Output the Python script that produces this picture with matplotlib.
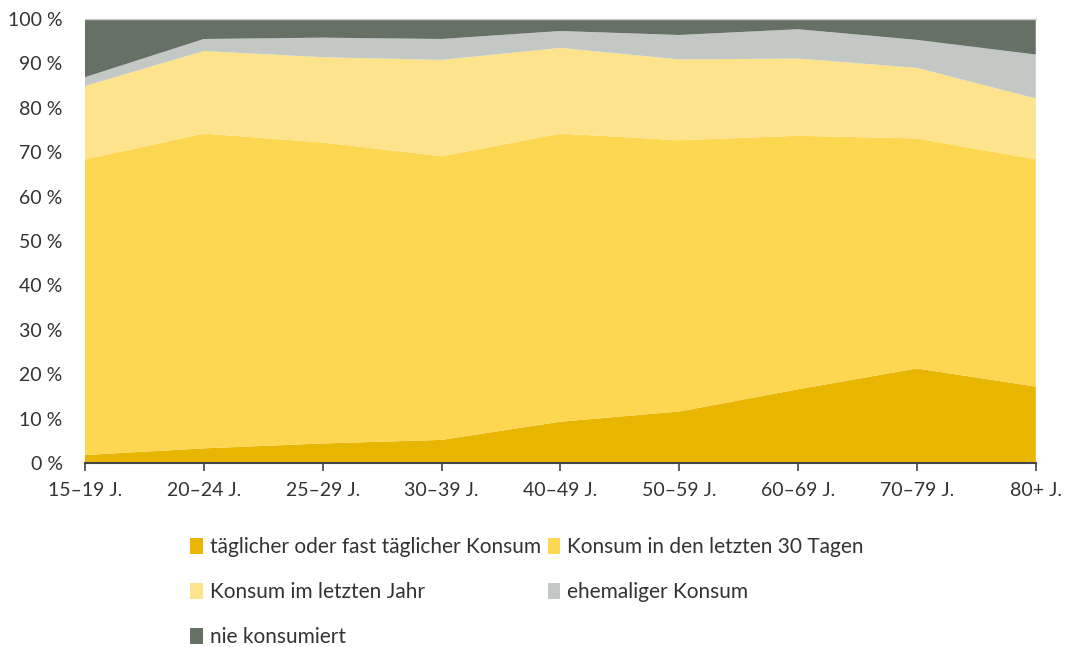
import numpy as np
import matplotlib.pyplot as plt

# age groups and shares (%) per consumption category
age_groups = ['15–19 J.', '20–24 J.', '25–29 J.', '30–39 J.', '40–49 J.',
              '50–59 J.', '60–69 J.', '70–79 J.', '80+ J.']
daily = [1.8, 3.3, 4.4, 5.2, 9.3, 11.6, 16.6, 21.3, 17.2]
last_30_days = [66.6, 70.9, 67.8, 63.9, 64.9, 61.1, 57.1, 51.8, 51.2]
last_year = [16.5, 18.6, 19.2, 21.7, 19.3, 18.2, 17.4, 15.9, 13.7]
former = [2.0, 2.7, 4.4, 4.7, 3.8, 5.5, 6.6, 6.3, 9.9]
never = [13.1, 4.5, 4.2, 4.5, 2.7, 3.6, 2.3, 4.7, 8.0]

labels = ['täglicher oder fast täglicher Konsum', 'Konsum in den letzten 30 Tagen',
          'Konsum im letzten Jahr', 'ehemaliger Konsum', 'nie konsumiert']
colors = ['#E8B500', '#FDD752', '#FDE48C', '#C3C8C5', '#667166']

plt.rcParams['font.family'] = ['Lato', 'DejaVu Sans']
text_color = '#333333'

fig = plt.figure(figsize=(10.7, 6.47), dpi=100)
ax = fig.add_axes([0.0794, 0.2844, 0.8886, 0.6862])

x = np.arange(len(age_groups))
polys = ax.stackplot(x, daily, last_30_days, last_year, former, never,
                     colors=colors, labels=labels, linewidth=0)

ax.set_xlim(0, len(age_groups) - 1)
ax.set_ylim(0, 100)
ax.set_yticks(range(0, 101, 10))
ax.set_yticklabels([f'{v} %' for v in range(0, 101, 10)])
ax.set_xticks(x)
ax.set_xticklabels(age_groups)

for side in ['left', 'right']:
    ax.spines[side].set_visible(False)
ax.spines['top'].set_color('#cccccc')
ax.spines['top'].set_linewidth(1.0)
ax.spines['bottom'].set_color('#444444')
ax.spines['bottom'].set_linewidth(1.5)

ax.tick_params(axis='y', length=0, pad=16, labelsize=14, labelcolor=text_color)
ax.tick_params(axis='x', length=6, width=1.2, color='#444444', pad=8,
               labelsize=14, labelcolor=text_color)

# legend is read row by row in the original, matplotlib fills columns first
order = [0, 2, 4, 1, 3]
fig.legend([polys[i] for i in order], [labels[i] for i in order],
           loc='upper left', bbox_to_anchor=(0.178, 0.170), ncol=2, frameon=False,
           fontsize=15, labelcolor=text_color, handlelength=0.6, handleheight=0.8,
           handletextpad=0.35, columnspacing=0.3, labelspacing=1.2,
           borderaxespad=0, borderpad=0)

fig.savefig('out.png', dpi=100)
